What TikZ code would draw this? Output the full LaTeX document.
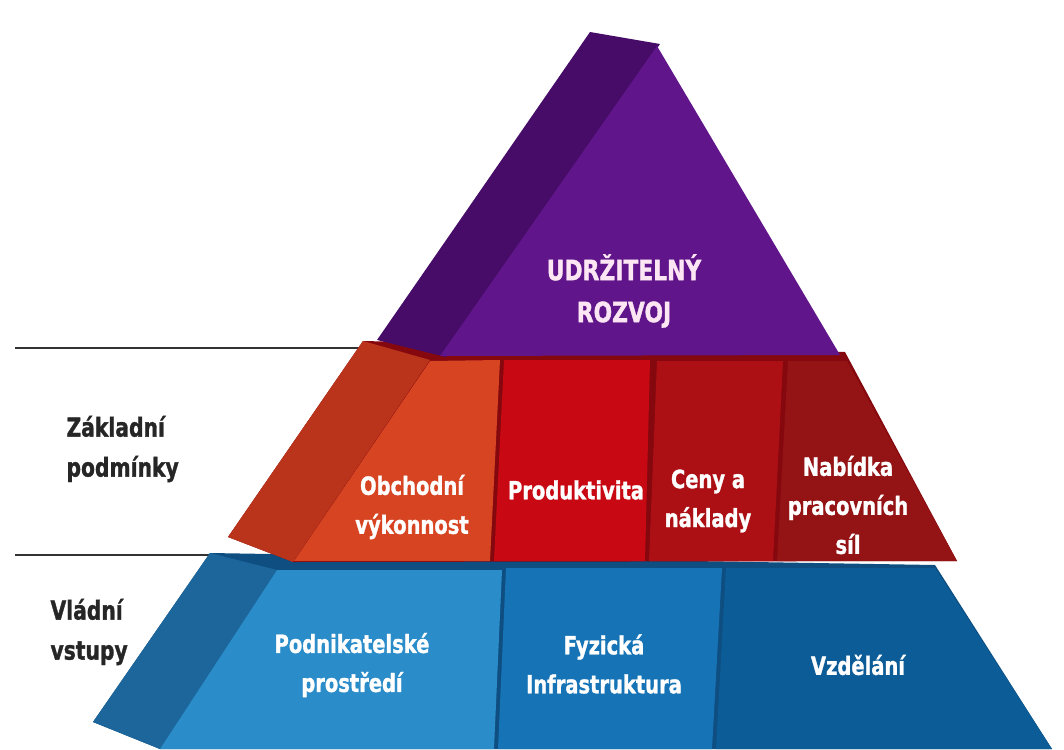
\documentclass[tikz,border=0pt]{standalone}
\usepackage{fontspec}
\newfontfamily\tierfont{DejaVu Sans}[FakeStretch=0.78,BoldFeatures={FakeBold=1.2}]

\definecolor{topfront}{RGB}{96,22,138}
\definecolor{topside}{RGB}{70,12,104}
\definecolor{midbase}{RGB}{132,8,14}
\definecolor{midside}{RGB}{186,52,28}
\definecolor{midA}{RGB}{214,68,34}
\definecolor{midB}{RGB}{200,8,18}
\definecolor{midC}{RGB}{172,16,20}
\definecolor{midD}{RGB}{148,20,22}
\definecolor{lowbase}{RGB}{14,78,128}
\definecolor{lowside}{RGB}{28,102,155}
\definecolor{lowA}{RGB}{42,140,200}
\definecolor{lowB}{RGB}{22,116,182}
\definecolor{lowC}{RGB}{12,92,152}

\begin{document}
\begin{tikzpicture}[x=1pt,y=-1pt,
  lbl/.style={text=white,font=\tierfont\bfseries\fontsize{25}{39}\selectfont,align=center},
  side/.style={text=black!85,font=\tierfont\bfseries\fontsize{26}{40}\selectfont,align=left,anchor=west}]
\useasboundingbox (0,0) rectangle (1064,749);
% guide lines
\draw[line width=2pt,black!80] (15,348) -- (370,348);
\draw[line width=2pt,black!80] (15,555) -- (280,555);
\path (63,449) node[side] (cond) {Základní\\podmínky};
\path (47,632) node[side] (gov) {Vládní\\vstupy};
% lower tier
\fill[lowbase] (93,722) -- (210,553) -- (935,565) -- (1052,749) -- (160,749) -- cycle;
\fill[lowside] (93,722) -- (210,553) -- (277,570) -- (160,749) -- cycle;
\fill[lowA] (277,570) -- (502,570) -- (494,749) -- (160,749) -- cycle;
\fill[lowB] (506,568) -- (722,568) -- (712,749) -- (498,749) -- cycle;
\fill[lowC] (726,568) -- (935,568) -- (1052,749) -- (716,749) -- cycle;
\path (352,665) node[lbl] (env) {Podnikatelské\\prostředí};
\path (604,664) node[lbl] (infra) {Fyzická\\Infrastruktura};
\path (858,665) node[lbl] (edu) {Vzdělání};
% middle tier
\fill[midbase] (228,537) -- (363,341) -- (845,352) -- (957,561) -- (293,562) -- cycle;
\fill[midside] (228,537) -- (363,341) -- (430,360) -- (293,562) -- cycle;
\fill[midA] (430,361) -- (500,360) -- (490,561) -- (294,561) -- cycle;
\fill[midB] (504,360) -- (650,360) -- (645,561) -- (494,561) -- cycle;
\fill[midC] (657,361) -- (783,361) -- (773,561) -- (649,561) -- cycle;
\fill[midD] (788,361) -- (847,361) -- (957,561) -- (777,561) -- cycle;
\path (412,507) node[lbl] (trade) {Obchodní\\výkonnost};
\path (576,490) node[lbl] (prod) {Produktivita};
\path (708,501) node[lbl] (cost) {Ceny a\\náklady};
\path (848,505) node[lbl] (labour) {Nabídka\\pracovních\\síl};
% top (side face runs a little under the front)
\fill[topside] (377,340) -- (590,32) -- (660,44) -- (446,357) -- cycle;
\fill[topfront] (657,46) -- (840,355) -- (440,356) -- cycle;
\path (624,291) node[lbl,text=white!90!magenta,font=\tierfont\bfseries\fontsize{28}{42}\selectfont] (goal) {UDRŽITELNÝ\\ROZVOJ};
\end{tikzpicture}
\end{document}
